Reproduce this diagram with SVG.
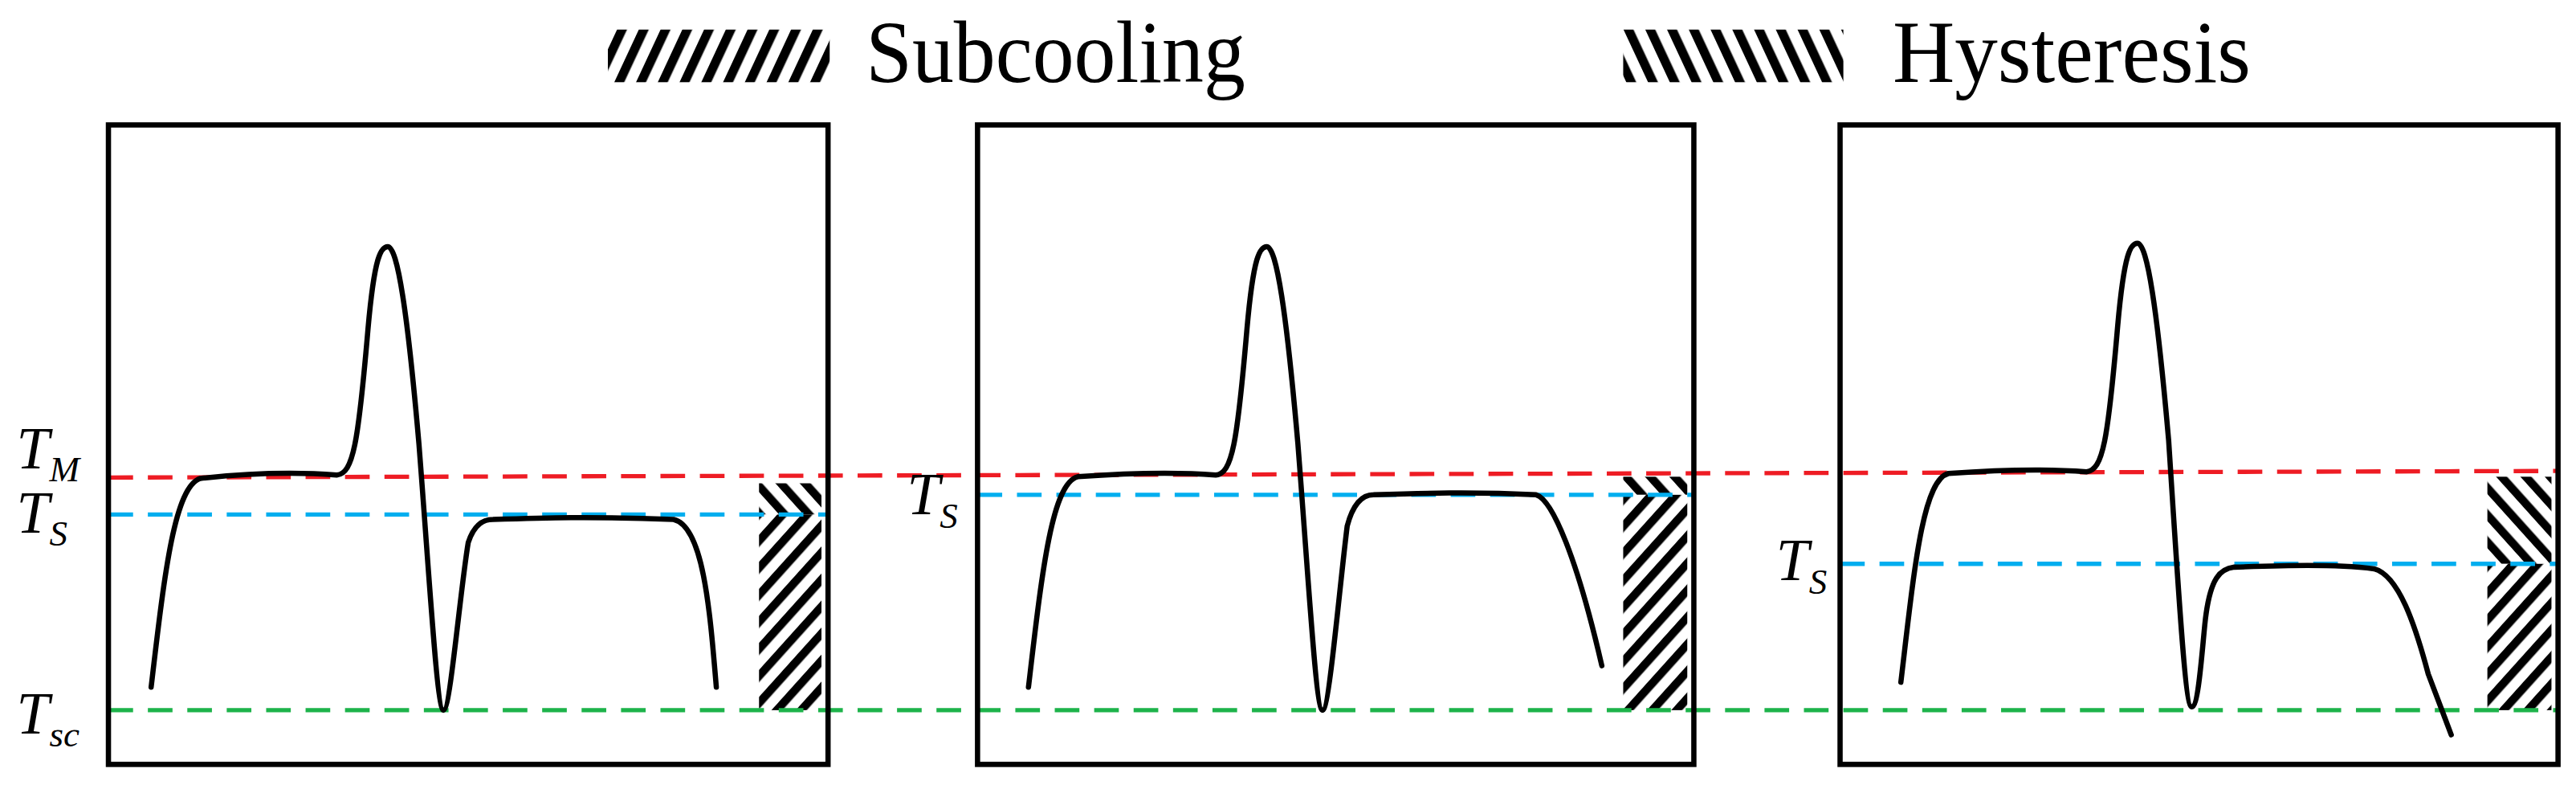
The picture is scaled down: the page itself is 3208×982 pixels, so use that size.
<svg xmlns="http://www.w3.org/2000/svg" width="3208" height="982" viewBox="0 0 3208 982">
<style>
.box{fill:none;stroke:#000;stroke-width:3.2}
.cur{fill:none;stroke:#000;stroke-width:3.2;stroke-linejoin:round;stroke-linecap:round}
.d{fill:none;stroke-width:2.6;stroke-dasharray:15 9}
.lab{font-family:"Liberation Serif",serif;font-style:italic;font-size:36px}
.sub{font-size:22px}
.leg{font-family:"Liberation Serif",serif;font-size:54px}
</style>
<defs>
<pattern id="fs" width="12" height="12" patternUnits="userSpaceOnUse" patternTransform="rotate(25)"><rect width="12" height="12" fill="#fff"/><rect width="5.5" height="12" fill="#000"/></pattern>
<pattern id="bs" width="12" height="12" patternUnits="userSpaceOnUse" patternTransform="rotate(-25)"><rect width="12" height="12" fill="#fff"/><rect width="5.5" height="12" fill="#000"/></pattern>
<pattern id="fs2" width="11" height="11" patternUnits="userSpaceOnUse" patternTransform="rotate(42)"><rect width="11" height="11" fill="#fff"/><rect width="5" height="11" fill="#000"/></pattern>
<pattern id="bs2" width="11" height="11" patternUnits="userSpaceOnUse" patternTransform="rotate(-42)"><rect width="11" height="11" fill="#fff"/><rect width="5" height="11" fill="#000"/></pattern>
</defs>
<rect width="3208" height="982" fill="#fff"/>
<g transform="scale(2.046)">
<g id="legend">
<rect x="370" y="18" width="135" height="32" fill="url(#fs)"/>
<text class="leg" x="527" y="50" textLength="231" lengthAdjust="spacingAndGlyphs">Subcooling</text>
<rect x="988" y="18" width="134" height="32" fill="url(#bs)"/>
<text class="leg" x="1152" y="50" textLength="218" lengthAdjust="spacingAndGlyphs">Hysteresis</text>
</g>
<g id="hatches">
<rect x="462" y="294" width="38" height="19" fill="url(#bs2)"/>
<rect x="462" y="313" width="38" height="119" fill="url(#fs2)"/>
<rect x="988" y="290" width="39" height="11" fill="url(#bs2)"/>
<rect x="988" y="301" width="39" height="131" fill="url(#fs2)"/>
<rect x="1514" y="290" width="39" height="53" fill="url(#bs2)"/>
<rect x="1514" y="343" width="39" height="89" fill="url(#fs2)"/>
</g>
<g id="connectors">
<line class="d" stroke="#ee1c24" x1="66" y1="290.5" x2="1557" y2="286.5"/>
<line class="d" stroke="#00aeef" x1="66" y1="313" x2="504" y2="313"/>
<line class="d" stroke="#00aeef" x1="595" y1="301" x2="1031" y2="301"/>
<line class="d" stroke="#00aeef" x1="1120" y1="343" x2="1557" y2="343"/>
<line class="d" stroke="#1db34a" x1="66" y1="432" x2="1557" y2="432"/>
</g>
<g id="curves">
<path class="cur" d="M92,418 C100,350 106,296 122,291 C150,288 180,287 205,289 C215,288 218,270 224,200 C228,155 232,150 236,150 C242,150 248,190 255,270 C262,360 266,432 270,432 C274,432 280,360 285,330 C289,318 295,316 300,316 C330,315 360,314 410,316 C428,320 432,370 436,418"/>
<path class="cur" d="M626,418 C634,350 640,294 656,290 C684,288 714,287 740,289 C750,288 753,270 759,200 C763,155 767,150 771,150 C777,150 783,190 790,270 C797,360 801,432 805,432 C809,432 815,360 820,320 C824,305 830,301 836,301 C866,300 896,299 935,301 C945,304 960,340 975,405"/>
<path class="cur" d="M1157,415 C1165,348 1170,292 1186,288 C1214,286 1244,285 1270,287 C1280,286 1283,268 1289,198 C1293,153 1297,148 1301,148 C1307,148 1313,188 1320,268 C1326,360 1330,430 1334,430 C1338,430 1340,400 1342,380 C1345,350 1352,346 1360,345 C1390,344 1420,343 1445,346 C1460,350 1470,380 1478,410 L1492,447"/>
</g>
<g id="boxes">
<rect class="box" x="66" y="76" width="438" height="389"/>
<rect class="box" x="595" y="76" width="436" height="389"/>
<rect class="box" x="1120" y="76" width="437" height="389"/>
</g>
<g id="labels">
<text class="lab" x="10" y="285">T<tspan class="sub" dy="8">M</tspan></text>
<text class="lab" x="10" y="324">T<tspan class="sub" dy="8">S</tspan></text>
<text class="lab" x="10" y="446">T<tspan class="sub" dy="8">sc</tspan></text>
<text class="lab" x="552" y="313">T<tspan class="sub" dy="8">S</tspan></text>
<text class="lab" x="1081" y="353">T<tspan class="sub" dy="8">S</tspan></text>
</g>
</g>
</svg>
